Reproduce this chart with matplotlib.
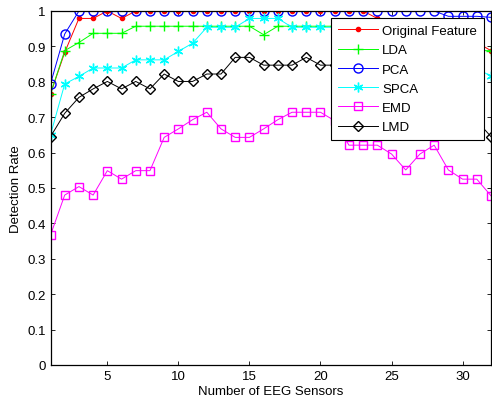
import numpy as np
import matplotlib
matplotlib.use('Agg')
from matplotlib import pyplot as plt

plt.rcParams['font.family'] = ['Liberation Sans', 'DejaVu Sans']

# number of sensors used
sensors = np.arange(1, 33)

# detection rates per feature extraction method
original = [0.766, 0.883, 0.979, 0.979, 1.0, 0.979, 1.0, 1.0, 1.0, 1.0,
            1.0, 1.0, 1.0, 1.0, 1.0, 1.0, 1.0, 1.0, 1.0, 1.0,
            1.0, 1.0, 1.0, 0.979, 0.957, 0.957, 0.933, 0.933, 0.911, 0.911,
            0.911, 0.888]
lda = [0.766, 0.888, 0.911, 0.937, 0.937, 0.937, 0.957, 0.957, 0.957, 0.957,
       0.957, 0.957, 0.957, 0.957, 0.957, 0.933, 0.957, 0.957, 0.957, 0.957,
       0.957, 0.957, 0.957, 0.933, 0.933, 0.933, 0.911, 0.911, 0.911, 0.888,
       0.888, 0.888]
pca = [0.794, 0.935, 1.0, 1.0, 1.0, 1.0, 1.0, 1.0, 1.0, 1.0,
       1.0, 1.0, 1.0, 1.0, 1.0, 1.0, 1.0, 1.0, 1.0, 1.0,
       1.0, 1.0, 1.0, 1.0, 1.0, 1.0, 1.0, 1.0, 0.985, 0.985,
       0.985, 0.982]
spca = [0.650, 0.794, 0.815, 0.839, 0.839, 0.839, 0.862, 0.862, 0.862, 0.886,
        0.909, 0.954, 0.954, 0.954, 0.979, 0.979, 0.979, 0.954, 0.954, 0.954,
        0.954, 0.954, 0.931, 0.931, 0.909, 0.909, 0.886, 0.862, 0.862, 0.839,
        0.839, 0.815]
emd = [0.367, 0.480, 0.504, 0.480, 0.549, 0.525, 0.549, 0.549, 0.643, 0.667,
       0.693, 0.714, 0.667, 0.643, 0.643, 0.667, 0.693, 0.714, 0.714, 0.714,
       0.690, 0.621, 0.621, 0.621, 0.596, 0.551, 0.596, 0.621, 0.551, 0.525,
       0.525, 0.478]
lmd = [0.645, 0.711, 0.756, 0.780, 0.801, 0.780, 0.801, 0.780, 0.822, 0.801,
       0.801, 0.822, 0.822, 0.869, 0.869, 0.847, 0.847, 0.847, 0.869, 0.847,
       0.847, 0.822, 0.822, 0.801, 0.801, 0.780, 0.756, 0.756, 0.733, 0.711,
       0.690, 0.645]

fig = plt.figure(figsize=(4.92, 4.02), dpi=100)
ax = fig.add_axes([50.5 / 492, 36 / 402, 440.5 / 492, 354 / 402])

lw = 0.7
ax.plot(sensors, original, '-', color='#ff0000', marker='.', markersize=6,
        lw=lw, label='Original Feature')
ax.plot(sensors, lda, '-', color='#00ff00', marker='+', markersize=6.5,
        lw=lw, label='LDA')
ax.plot(sensors, pca, '-', color='#0000ff', marker='o', markersize=6.5,
        mfc='none', lw=lw, label='PCA')
# asterisk marker, 6 arms
ax.plot(sensors, spca, '-', color='#00ffff', marker=(6, 2, 0), markersize=7,
        mew=1.0, lw=lw, label='SPCA')
ax.plot(sensors, emd, '-', color='#ff00ff', marker='s', markersize=6,
        mfc='none', lw=lw, label='EMD')
ax.plot(sensors, lmd, '-', color='black', marker='D', markersize=4.7,
        mfc='none', lw=lw, label='LMD')

ax.set_xlim(1, 32)
ax.set_ylim(0, 1)
ax.set_xticks([5, 10, 15, 20, 25, 30])
yt = np.arange(0, 1.01, 0.1)
ax.set_yticks(yt)
ax.set_yticklabels(['%g' % round(v, 1) for v in yt])
ax.tick_params(direction='in', top=True, right=True, length=3,
               labelsize=9.5, width=0.6)
for s in ax.spines.values():
    s.set_linewidth(0.9)

ax.set_xlabel('Number of EEG Sensors', fontsize=9.5, labelpad=2)
ax.set_ylabel('Detection Rate', fontsize=9.5, labelpad=4)

leg = ax.legend(loc='upper right', fontsize=9.5, fancybox=False,
                framealpha=1, edgecolor='black', borderaxespad=0.5,
                borderpad=0.55, handlelength=3.0, handletextpad=0.35,
                labelspacing=0.53)
leg.get_frame().set_linewidth(0.8)

fig.savefig('out.png', dpi=100)
